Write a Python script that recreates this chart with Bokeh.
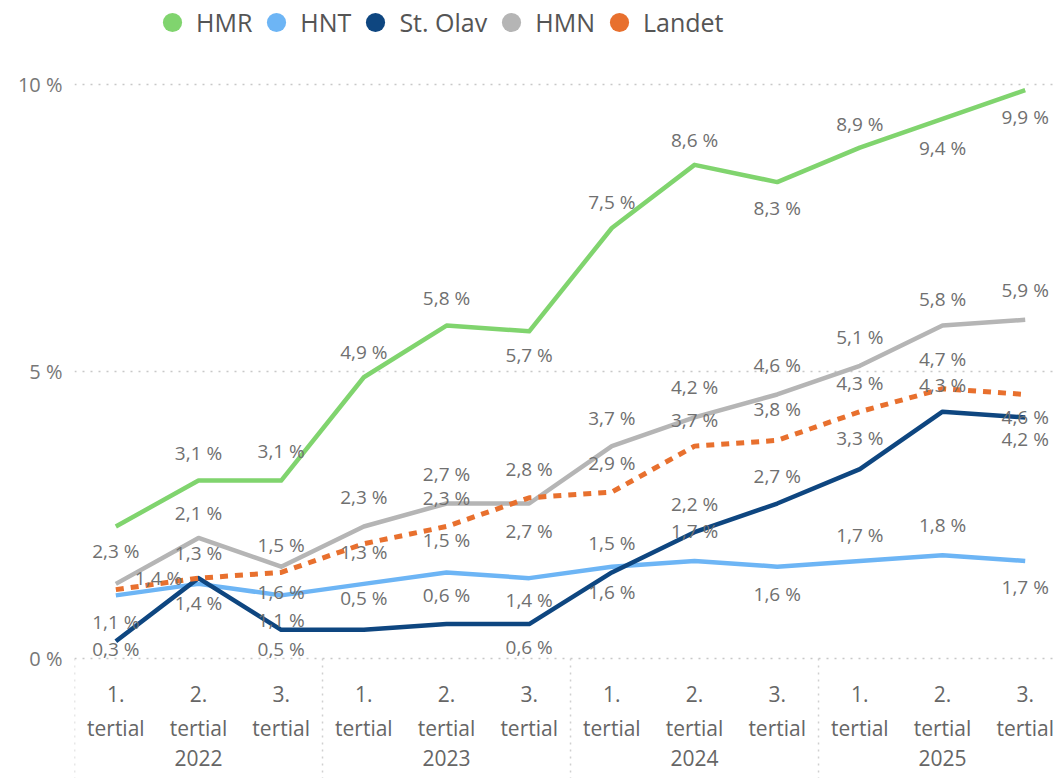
from bokeh.plotting import figure
from bokeh.models import ColumnDataSource, Range1d, FixedTicker, Legend, LegendItem
from bokeh.core.properties import value
from bokeh.embed import file_html
from bokeh.resources import INLINE

# ---------------- data ----------------
years = ["2022", "2023", "2024", "2025"]
tertials = ["1. tertial", "2. tertial", "3. tertial"]

hmr = [2.3, 3.1, 3.1, 4.9, 5.8, 5.7, 7.5, 8.6, 8.3, 8.9, 9.4, 9.9]
hnt = [1.1, 1.3, 1.1, 1.3, 1.5, 1.4, 1.6, 1.7, 1.6, 1.7, 1.8, 1.7]
st_olav = [0.3, 1.4, 0.5, 0.5, 0.6, 0.6, 1.5, 2.2, 2.7, 3.3, 4.3, 4.2]
hmn = [1.3, 2.1, 1.6, 2.3, 2.7, 2.7, 3.7, 4.2, 4.6, 5.1, 5.8, 5.9]
landet = [1.2, 1.4, 1.5, 2.0, 2.3, 2.8, 2.9, 3.7, 3.8, 4.3, 4.7, 4.6]

series_names = ["HMR", "HNT", "St. Olav", "HMN", "Landet"]
series_values = [hmr, hnt, st_olav, hmn, landet]
y_ticks = [0, 5, 10]

# ---------------- styles ----------------
COLORS = {"HMR": "#80d46e", "HNT": "#6db5f5", "St. Olav": "#0e4680",
          "HMN": "#b5b5b5", "Landet": "#e8702e"}
DASH = {"Landet": "8 7"}
# label offsets in screen px (positive = down), None = hidden
LABEL_DY = {
    "HMR": [25, -28, -30, -25, -28, 24, -26, -25, 26, -24, 29, 27],
    "HNT": [27, -31, 25, -32, -32, 22, 25, -30, 27, -26, -30, 26],
    "St. Olav": [8, 25, 19, -32, -29, 23, -29, -28, -28, -31, -27, 22],
    "HMN": [None, -25, 25, -29, -30, 27, -28, -30, -29, -29, -27, -30],
    "Landet": [None, 0, -27, None, -28, -29, -29, -26, -31, -29, -30, 23],
}
LABEL_DX = {"Landet": {1: -40}}
FONT = "Open Sans"
LABEL_COLOR = "#707070"
TICK_COLOR = "#666666"

n_t = len(tertials)
xs = list(range(len(years) * n_t))

# pixel geometry
W, H = 1057, 778
left = 74
band = 82.67
zero_px = 658
px_per_unit = 57.4
x_end = -0.5 + (W - left) / band
y_start = -(H - zero_px) / px_per_unit
y_end = zero_px / px_per_unit

p = figure(width=W, height=H, x_range=Range1d(-0.5, x_end),
           y_range=Range1d(y_start, y_end), output_backend="svg",
           toolbar_location=None, x_axis_location=None,
           min_border_left=left, min_border_right=0, min_border_top=0,
           min_border_bottom=0)
p.outline_line_color = None
p.background_fill_color = "white"
p.border_fill_color = "white"
p.xgrid.visible = False

# y axis
p.yaxis.ticker = FixedTicker(ticks=y_ticks)
p.ygrid.ticker = FixedTicker(ticks=y_ticks)
p.yaxis.major_label_overrides = {t: f"{t} %" for t in y_ticks}
p.yaxis.axis_line_color = None
p.yaxis.major_tick_line_color = None
p.yaxis.minor_tick_line_color = None
p.yaxis.major_label_text_font = FONT
p.yaxis.major_label_text_font_size = "20px"
p.yaxis.major_label_text_color = "#777777"
p.yaxis.major_label_standoff = 6
p.ygrid.grid_line_color = "#c8c8c8"
p.ygrid.grid_line_dash = "2 6"
p.ygrid.grid_line_width = 1.5

# group separators below the axis
seps = [g * n_t - 0.5 for g in range(len(years))]
p.segment(x0=seps, y0=[0] * len(seps), x1=seps, y1=[y_start] * len(seps),
          line_color="#d0d0d0", line_dash="2 5", line_width=1.5)

# lines
for name, vals in zip(series_names, series_values):
    p.line(xs, vals, line_color=COLORS[name], line_width=4.5 if name != "Landet" else 5,
           line_dash=DASH.get(name, "solid"), line_join="round", line_cap="butt")

# data labels
for name, vals in zip(series_names, series_values):
    lx, ly, lt, ldy, ldx = [], [], [], [], []
    for i, v in enumerate(vals):
        dy = LABEL_DY[name][i]
        if dy is None:
            continue
        lx.append(xs[i]); ly.append(v)
        lt.append(f"{v:.1f}".replace(".", ",") + " %")
        ldy.append(dy); ldx.append(LABEL_DX.get(name, {}).get(i, 0))
    src = ColumnDataSource(dict(x=lx, y=ly, t=lt, dy=ldy, dx=ldx))
    p.text(x="x", y="y", text="t", source=src, x_offset="dx", y_offset="dy",
           text_font=value(FONT), text_font_size="19px", text_color=LABEL_COLOR,
           text_align="center", text_baseline="middle")

# category axis labels (drawn as text below zero line)
line1 = [t.split(" ")[0] for _ in years for t in tertials]
line2 = [t.split(" ")[1] for _ in years for t in tertials]
cat_src = ColumnDataSource(dict(x=xs, y=[0] * len(xs), a=line1, b=line2))
for col, off in (("a", 35), ("b", 69)):
    p.text(x="x", y="y", text=col, source=cat_src, y_offset=off,
           text_font=value(FONT), text_font_size="21px", text_color=TICK_COLOR,
           text_align="center", text_baseline="middle")
year_x = [g * n_t + (n_t - 1) / 2 for g in range(len(years))]
yr_src = ColumnDataSource(dict(x=year_x, y=[0] * len(years), t=years))
p.text(x="x", y="y", text="t", source=yr_src, y_offset=99,
       text_font=value(FONT), text_font_size="21px", text_color=TICK_COLOR,
       text_align="center", text_baseline="middle")

# legend: hidden circle renderers (only their legend glyphs are shown)
items = []
for name, vals in zip(series_names, series_values):
    r = p.scatter(xs, vals, marker="circle", size=16, fill_color=COLORS[name],
                  line_color=None)
    r.visible = False
    items.append(LegendItem(label=name, renderers=[r]))
legend = Legend(items=items, orientation="horizontal",
                location=(74, H - 46), label_text_font=FONT,
                label_text_font_size="25px", label_text_color="#555555",
                glyph_width=48, glyph_height=48, label_standoff=0, spacing=0,
                padding=0, margin=0, background_fill_alpha=0,
                border_line_alpha=0, label_text_baseline="middle")
p.add_layout(legend, "center")

open("out.html", "w").write(file_html(p, INLINE))
